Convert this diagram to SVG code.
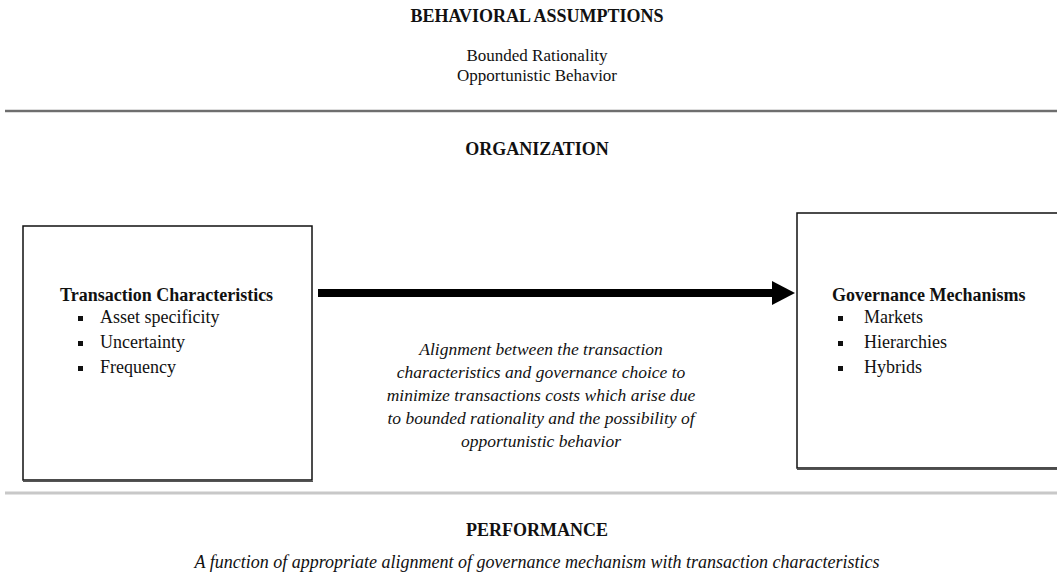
<svg xmlns="http://www.w3.org/2000/svg" width="1057" height="583" viewBox="0 0 1057 583">
<style>
text{font-family:"Liberation Serif","Times New Roman",serif;fill:#111}
.h{font-weight:bold;font-size:18px;text-anchor:middle}
.r{font-size:17px;text-anchor:middle}
.hb{font-weight:bold;font-size:18px}
.li{font-size:18px}
.it{font-style:italic;font-size:17.5px;text-anchor:middle}
.itb{font-style:italic;font-size:18px;text-anchor:middle}
.box{fill:#fff;stroke:#111;stroke-width:1.5}
.bul{fill:#111}
</style>
<rect width="1057" height="583" fill="#fff"/>
<g id="behavioral">
<text class="h" x="537" y="22">BEHAVIORAL ASSUMPTIONS</text>
<text class="r" x="537" y="61">Bounded Rationality</text>
<text class="r" x="537" y="81">Opportunistic Behavior</text>
</g>
<g id="dividers">
<line x1="5" y1="111" x2="1057" y2="111" stroke="#bbb" stroke-width="3"/>
<line x1="5" y1="111" x2="1057" y2="111" stroke="#555" stroke-width="1.3"/>
<line x1="5" y1="493" x2="1057" y2="493" stroke="#c8c8c8" stroke-width="3"/>
</g>
<g id="organization">
<text class="h" x="537" y="155">ORGANIZATION</text>
</g>
<g id="transaction">
<rect class="box" x="23" y="226" width="289" height="254"/>
<line x1="23" y1="481.5" x2="313" y2="481.5" stroke="#555" stroke-width="1"/>
<text class="hb" x="60" y="301">Transaction Characteristics</text>
<rect class="bul" x="78" y="316" width="5" height="5"/>
<text class="li" x="100" y="323">Asset specificity</text>
<rect class="bul" x="78" y="341" width="5" height="5"/>
<text class="li" x="100" y="348">Uncertainty</text>
<rect class="bul" x="78" y="366" width="5" height="5"/>
<text class="li" x="100" y="373">Frequency</text>
</g>
<g id="governance">
<rect class="box" x="797" y="213" width="262" height="255"/>
<line x1="797" y1="469.5" x2="1057" y2="469.5" stroke="#555" stroke-width="1"/>
<text class="hb" x="832" y="301">Governance Mechanisms</text>
<rect class="bul" x="838" y="316" width="5" height="5"/>
<text class="li" x="864" y="323">Markets</text>
<rect class="bul" x="838" y="341" width="5" height="5"/>
<text class="li" x="864" y="348">Hierarchies</text>
<rect class="bul" x="838" y="366" width="5" height="5"/>
<text class="li" x="864" y="373">Hybrids</text>
</g>
<g id="connectors">
<rect x="318" y="289" width="456" height="8" fill="#000"/>
<polygon points="772,281 795,293 772,305" fill="#000"/>
</g>
<g id="alignment">
<text class="it" x="541" y="355">Alignment between the transaction</text>
<text class="it" x="541" y="378">characteristics and governance choice to</text>
<text class="it" x="541" y="401">minimize transactions costs which arise due</text>
<text class="it" x="541" y="424">to bounded rationality and the possibility of</text>
<text class="it" x="541" y="447">opportunistic behavior</text>
</g>
<g id="performance">
<text class="h" x="537" y="536">PERFORMANCE</text>
<text class="itb" x="537" y="568">A function of appropriate alignment of governance mechanism with transaction characteristics</text>
</g>
</svg>
